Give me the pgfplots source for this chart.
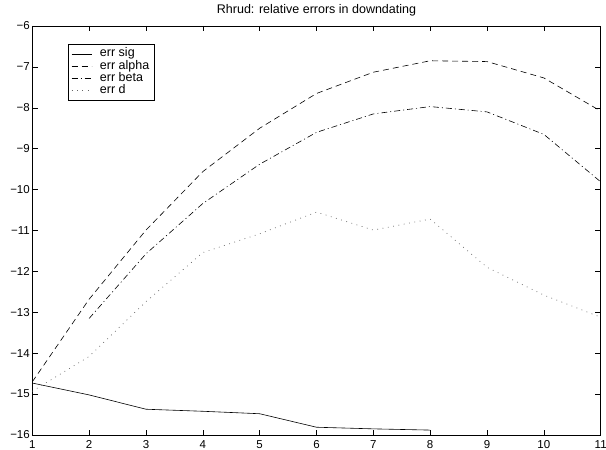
\documentclass[border=0pt]{standalone}
\usepackage{fontspec}
\setmainfont{Liberation Sans}
\usepackage{pgfplots}
\pgfplotsset{compat=1.18}
\begin{document}
\begin{tikzpicture}
\begin{axis}[name=ax, scale only axis, width=568.4pt, height=409pt,
  xmin=1, xmax=11, ymin=-16, ymax=-6,
  xtick={1,...,11}, ytick={-16,-15,...,-6},
  yticklabels={−16,−15,−14,−13,−12,−11,−10,−9,−8,−7,−6},
  /pgf/number format/assume math mode=true,
  tick align=inside, major tick length=5.5pt,
  tick style={black, line width=0.5pt},
  axis line style={line width=0.9pt},
  ticklabel style={font=\fontsize{11.5}{13}\selectfont},
  xticklabel style={yshift=-2.2pt},
  yticklabel style={xshift=1pt},
  title={Rhrud: relative errors in downdating},
  title style={font=\fontsize{12.5}{14}\selectfont, at={(0.5,1)}, anchor=south, yshift=0pt},
  legend style={at={(0.0628,0.956)}, anchor=north west, draw=black, line width=0.6pt,
    font=\fontsize{12.5}{13}\selectfont, inner xsep=3pt, inner ysep=3.5pt,
    column sep=6pt, row sep=0pt,
    nodes={inner xsep=2pt, inner ysep=0.1pt, text height=9pt, text depth=3pt},
    cells={anchor=west}},
  legend image code/.code={\draw[#1] (0pt,0pt) -- (20pt,0pt);},
]
\addplot[black, line width=0.6pt] coordinates {(1,-14.73) (2,-15.02) (3,-15.37) (4,-15.42) (5,-15.48) (6,-15.81) (7,-15.85) (8,-15.88)};
\addlegendentry{err sig}
\addplot[black, line width=0.6pt, dash pattern=on 6pt off 4pt] coordinates {(1,-14.70) (2,-12.68) (3,-10.99) (4,-9.56) (5,-8.5) (6,-7.65) (7,-7.13) (8,-6.85) (9,-6.87) (10,-7.27) (11,-8.08)};
\addlegendentry{err alpha}
\addplot[black, line width=0.6pt, dash pattern=on 6pt off 3pt on 1pt off 3pt] coordinates {(2,-13.15) (3,-11.57) (4,-10.34) (5,-9.38) (6,-8.6) (7,-8.15) (8,-7.97) (9,-8.1) (10,-8.65) (11,-9.81)};
\addlegendentry{err beta}
\addplot[black!60, line width=0.7pt, dash pattern=on 0.8pt off 4.6pt] coordinates {(1,-14.93) (2,-14.08) (3,-12.74) (4,-11.54) (5,-11.08) (6,-10.55) (7,-10.99) (8,-10.72) (9,-11.9) (10,-12.58) (11,-13.12)};
\addlegendentry{err d}
\end{axis}
\pgfresetboundingbox
\path[use as bounding box] ([xshift=-32.3pt,yshift=-15pt]ax.south west) rectangle ([xshift=5.3pt,yshift=26pt]ax.north east);
\end{tikzpicture}
\end{document}
